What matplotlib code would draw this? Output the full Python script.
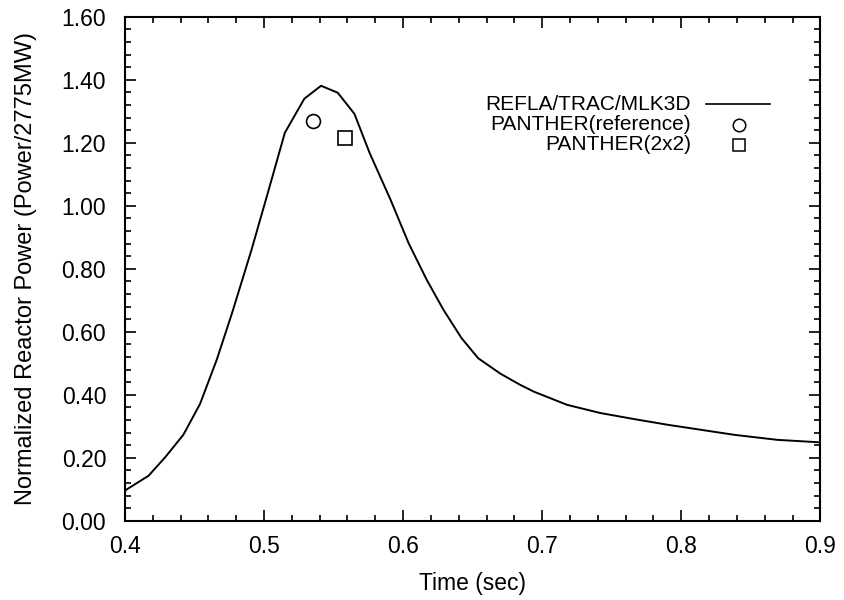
import matplotlib
matplotlib.use("Agg")
import matplotlib.pyplot as plt
from matplotlib.ticker import MultipleLocator, FormatStrFormatter

plt.rcParams['font.family'] = ['Liberation Sans', 'DejaVu Sans']

# REFLA/TRAC/MLK3D curve
time = [0.400, 0.417, 0.429, 0.442, 0.454, 0.466, 0.477, 0.491, 0.503, 0.515,
        0.529, 0.541, 0.553, 0.565, 0.576, 0.591, 0.604, 0.617, 0.629, 0.642,
        0.654, 0.670, 0.684, 0.694, 0.718, 0.742, 0.766, 0.790, 0.814, 0.838,
        0.869, 0.900]
power = [0.096, 0.143, 0.202, 0.273, 0.371, 0.511, 0.659, 0.860, 1.045, 1.232,
         1.340, 1.381, 1.359, 1.292, 1.167, 1.019, 0.881, 0.765, 0.670, 0.580,
         0.516, 0.467, 0.432, 0.410, 0.368, 0.342, 0.323, 0.305, 0.289, 0.273,
         0.257, 0.249]

# PANTHER peaks
ref_t = [0.535]
ref_p = [1.27]
p2x2_t = [0.558]
p2x2_p = [1.216]

labels = ["REFLA/TRAC/MLK3D", "PANTHER(reference)", "PANTHER(2x2)"]

fig = plt.figure(figsize=(8.44, 6.0), dpi=100)
ax = fig.add_axes([0.148, 0.132, 0.824, 0.840])

ax.plot(time, power, color='black', lw=1.4)
ax.plot(ref_t, ref_p, 'o', ms=10, mfc='white', mec='black', mew=1.2)
ax.plot(p2x2_t, p2x2_p, 's', ms=10, mfc='white', mec='black', mew=1.2)

ax.set_xlim(0.4, 0.9)
ax.set_ylim(0.0, 1.6)
ax.xaxis.set_major_locator(MultipleLocator(0.1))
ax.xaxis.set_minor_locator(MultipleLocator(0.02))
ax.yaxis.set_major_locator(MultipleLocator(0.2))
ax.yaxis.set_minor_locator(MultipleLocator(0.04))
ax.xaxis.set_major_formatter(FormatStrFormatter('%.1f'))
ax.yaxis.set_major_formatter(FormatStrFormatter('%.2f'))
ax.tick_params(which='both', direction='in', top=True, right=True,
               labelsize=16.5, width=1.2)
ax.tick_params(which='major', length=8)
ax.tick_params(which='minor', length=4)
ax.tick_params(axis='x', which='major', pad=10)
ax.tick_params(axis='y', which='major', pad=13.5)
for s in ax.spines.values():
    s.set_linewidth(1.5)

ax.set_xlabel("Time (sec)", fontsize=16.5, labelpad=10)
ax.set_ylabel("Normalized Reactor Power (Power/2775MW)", fontsize=17)
ax.yaxis.set_label_coords(-0.127, 0.5)

# legend, drawn by hand so the texts are right aligned
rows = [0.826, 0.786, 0.746]
for lab, yy in zip(labels, rows):
    ax.text(0.814, yy, lab, transform=ax.transAxes, ha='right', va='center',
            fontsize=15)
ax.plot([0.836, 0.928], [rows[0], rows[0]], color='black', lw=1.2,
        transform=ax.transAxes)
ax.plot([0.883], [rows[1]], 'o', ms=9, mfc='white', mec='black', mew=1.1,
        transform=ax.transAxes)
ax.plot([0.883], [rows[2]], 's', ms=8.5, mfc='white', mec='black', mew=1.1,
        transform=ax.transAxes)

fig.savefig("out.png", dpi=100)
